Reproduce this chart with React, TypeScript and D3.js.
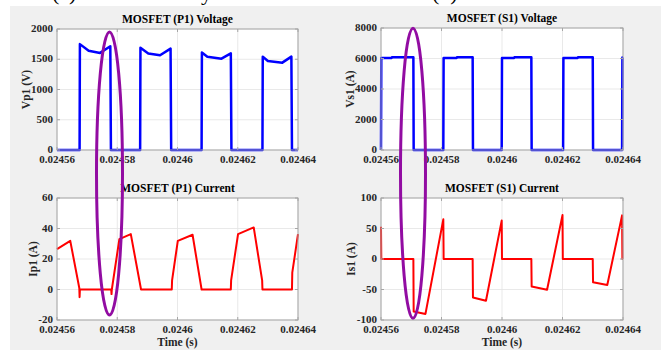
import React from "react";
import * as d3 from "d3";

// ---------- data ----------
const xTicks = [0.02456, 0.02458, 0.0246, 0.02462, 0.02464];
const xTickLabels = ["0.02456", "0.02458", "0.0246", "0.02462", "0.02464"];

const vp1Time = [0.02456, 0.0245675, 0.0245676, 0.0245705, 0.0245743, 0.0245777, 0.0245779, 0.0245876, 0.0245877, 0.0245903, 0.0245942, 0.0245977, 0.0245979, 0.024608, 0.0246081, 0.0246099, 0.0246146, 0.0246177, 0.0246179, 0.0246282, 0.0246283, 0.02463, 0.0246348, 0.0246378, 0.024638, 0.02464];
const vp1Values = [0, 0, 1750, 1640, 1605, 1715, 0, 0, 1690, 1595, 1565, 1675, 0, 0, 1612, 1543, 1510, 1598, 0, 0, 1543, 1471, 1444, 1543, 0, 0];
const vp1Ticks = [0, 500, 1000, 1500, 2000];

const vs1Time = [0.02456, 0.0245601, 0.0245635, 0.0245636, 0.0245707, 0.0245708, 0.0245806, 0.0245807, 0.024585, 0.0245851, 0.0245903, 0.0245904, 0.0245999, 0.0246, 0.024604, 0.0246041, 0.0246097, 0.0246098, 0.0246202, 0.0246203, 0.024625, 0.0246251, 0.02463, 0.0246301, 0.0246397, 0.0246398, 0.02464];
const vs1Values = [0, 6040, 6040, 6080, 6080, 0, 0, 6040, 6040, 6080, 6080, 0, 0, 6040, 6040, 6080, 6080, 0, 0, 6040, 6040, 6080, 6080, 0, 0, 6060, 6060];
const vs1Ticks = [0, 2000, 4000, 6000, 8000];

const ip1Time = [0.02456, 0.0245644, 0.0245674, 0.0245675, 0.0245676, 0.024578, 0.0245781, 0.0245782, 0.0245807, 0.0245845, 0.0245879, 0.0245981, 0.0245982, 0.0246001, 0.024605, 0.024608, 0.0246177, 0.0246178, 0.0246201, 0.0246253, 0.0246281, 0.0246282, 0.024638, 0.0246381, 0.02464];
const ip1Values = [26.5, 31.9, 1, -5, 0, 0, -3, 0, 33, 36.3, 0, 0, 6, 31.9, 35.9, 0, 0, 6, 36.3, 40.7, 6, 0, 0, 11, 36.3];
const ip1Ticks = [-20, 0, 20, 40, 60];

const is1Time = [0.02456, 0.0245601, 0.0245707, 0.0245708, 0.0245747, 0.0245806, 0.0245807, 0.0245903, 0.0245904, 0.0245947, 0.0245999, 0.0246, 0.0246097, 0.0246098, 0.0246149, 0.02462, 0.0246201, 0.02463, 0.0246301, 0.0246348, 0.0246397, 0.0246398, 0.02464];
const is1Values = [53, 0, 0, -86, -90, 65, 0, 0, -63, -68.5, 63, 0, 0, -45, -50.5, 72, 0, 0, -38, -42.5, 71.5, 0, 0];
const is1Ticks = [-100, -50, 0, 50, 100];

const FONT = "'Liberation Serif', 'Times New Roman', serif";

type PanelProps = {
  left: number; top: number; width: number; height: number;
  yDomain: [number, number]; yTicks: number[];
  title: string; yLabel: string; yLabelX: number; xLabel?: string;
  times: number[]; values: number[]; color: string; strokeW: number;
};

function Panel(p: PanelProps) {
  const x = d3.scaleLinear().domain([xTicks[0], xTicks[xTicks.length - 1]]).range([p.left, p.left + p.width]);
  const y = d3.scaleLinear().domain(p.yDomain).range([p.top + p.height, p.top]);
  const pts = p.times.map((t, i) => [t, p.values[i]] as [number, number]);
  const line = d3.line<[number, number]>().x((d) => x(d[0])).y((d) => y(d[1]));
  const bottom = p.top + p.height;
  const right = p.left + p.width;
  const axisCol = "#a6a6a6";
  return (
    <g>
      <rect x={p.left} y={p.top} width={p.width} height={p.height} fill="#ffffff" />
      {xTicks.map((t, i) => (
        <line key={"gx" + i} x1={x(t)} x2={x(t)} y1={p.top} y2={bottom} stroke="#e3e3e3" strokeWidth={0.8} />
      ))}
      {p.yTicks.map((t, i) => (
        <line key={"gy" + i} x1={p.left} x2={right} y1={y(t)} y2={y(t)} stroke="#e3e3e3" strokeWidth={0.8} />
      ))}
      <path d={line(pts) || ""} fill="none" stroke={p.color} strokeWidth={p.strokeW} strokeLinejoin="round" />
      <rect x={p.left} y={p.top} width={p.width} height={p.height} fill="none" stroke={axisCol} strokeWidth={1} />
      {xTicks.map((t, i) => (
        <g key={"tx" + i}>
          <line x1={x(t)} x2={x(t)} y1={bottom} y2={bottom - 3} stroke={axisCol} />
          <line x1={x(t)} x2={x(t)} y1={p.top} y2={p.top + 3} stroke={axisCol} />
          <text x={x(t)} y={bottom + 13} textAnchor="middle" fontFamily={FONT} fontWeight="bold" fontSize={11} fill="#262626">
            {xTickLabels[i]}
          </text>
        </g>
      ))}
      {p.yTicks.map((t, i) => (
        <g key={"ty" + i}>
          <line x1={p.left} x2={p.left + 3} y1={y(t)} y2={y(t)} stroke={axisCol} />
          <line x1={right} x2={right - 3} y1={y(t)} y2={y(t)} stroke={axisCol} />
          <text x={p.left - 4} y={y(t) + 3} textAnchor="end" fontFamily={FONT} fontWeight="bold" fontSize={11} fill="#262626">
            {t}
          </text>
        </g>
      ))}
      <text x={p.left + p.width / 2} y={p.top - 6} textAnchor="middle" fontFamily={FONT} fontWeight="bold" fontSize={11.5} fill="#000">
        {p.title}
      </text>
      <text transform={`translate(${p.yLabelX},${p.top + p.height / 2}) rotate(-90)`} textAnchor="middle" fontFamily={FONT} fontWeight="bold" fontSize={11.5} fill="#262626">
        {p.yLabel}
      </text>
      {p.xLabel && (
        <text x={p.left + p.width / 2} y={bottom + 26} textAnchor="middle" fontFamily={FONT} fontWeight="bold" fontSize={11.5} fill="#262626">
          {p.xLabel}
        </text>
      )}
    </g>
  );
}

export default function App() {
  return (
    <svg width={661} height={350} style={{ position: "absolute", left: 0, top: 0 }}>
      <rect x={0} y={0} width={661} height={350} fill="#ffffff" />
      <text x={52} y={-0.5} fontFamily={FONT} fontSize={22} fill="#000">(c)  and Secondary Side MOSFET</text>
      <text x={432} y={-0.5} fontFamily={FONT} fontSize={22} fill="#000">(d)  ZVS Mode</text>
      <rect x={10} y={6} width={651} height={344} fill="#f0f0f0" />
      <Panel left={57} top={29} width={241} height={121} yDomain={[0, 2000]} yTicks={vp1Ticks}
        title="MOSFET (P1) Voltage" yLabel="Vp1 (V)" yLabelX={30} times={vp1Time} values={vp1Values} color="#0000ff" strokeW={2.5} />
      <Panel left={381} top={28} width={242} height={122} yDomain={[0, 8000]} yTicks={vs1Ticks}
        title="MOSFET (S1) Voltage" yLabel="Vs1 (A)" yLabelX={354} times={vs1Time} values={vs1Values} color="#0000ff" strokeW={2.5} />
      <Panel left={57} top={198} width={241} height={122} yDomain={[-20, 60]} yTicks={ip1Ticks}
        title="MOSFET (P1) Current" yLabel="Ip1 (A)" yLabelX={37} xLabel="Time (s)" times={ip1Time} values={ip1Values} color="#ff0000" strokeW={2} />
      <Panel left={381} top={198} width={242} height={122} yDomain={[-100, 100]} yTicks={is1Ticks}
        title="MOSFET (S1) Current" yLabel="Is1 (A)" yLabelX={355} xLabel="Time (s)" times={is1Time} values={is1Values} color="#ff0000" strokeW={2} />
      <ellipse cx={109.5} cy={173.5} rx={13} ry={141.5} fill="none" stroke="#920ca2" strokeWidth={3} />
      <ellipse cx={413} cy={173.3} rx={12.5} ry={145} fill="none" stroke="#920ca2" strokeWidth={3} />
    </svg>
  );
}
